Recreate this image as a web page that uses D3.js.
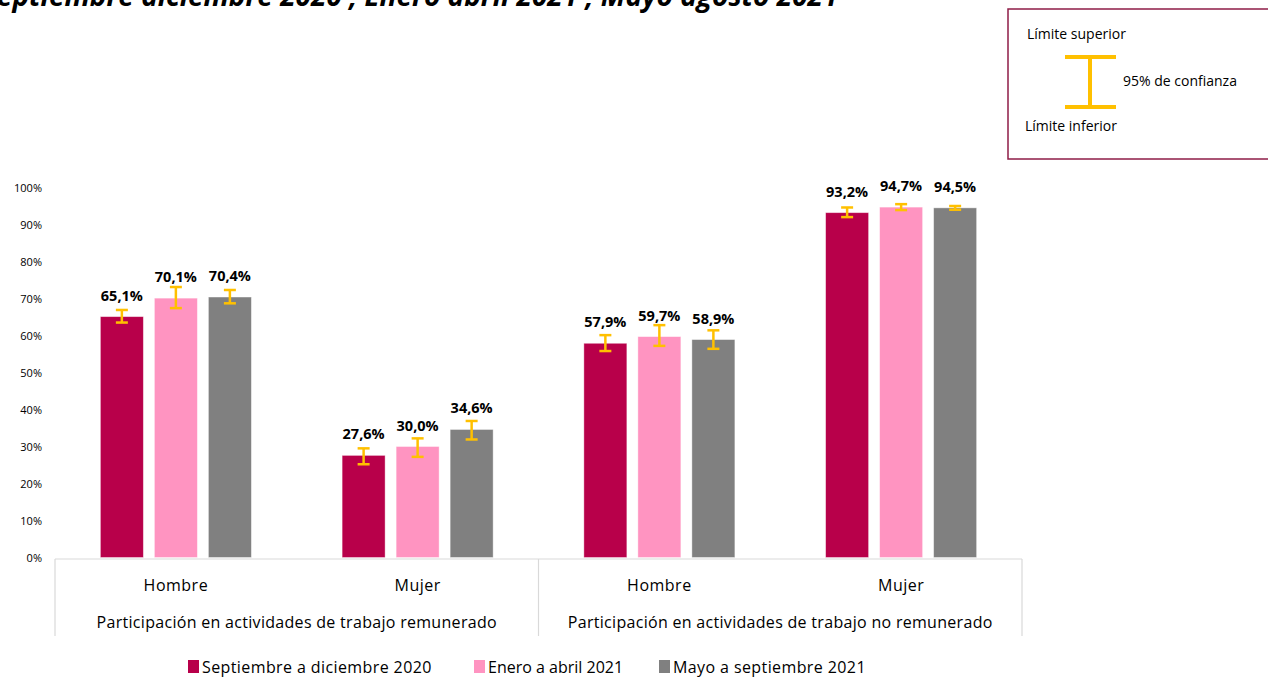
<!DOCTYPE html>
<html>
<head>
<meta charset="utf-8">
<script src="https://cdn.jsdelivr.net/npm/d3@7"></script>
<style>
  body { margin: 0; background: #fff; }
  text { font-family: "Open Sans", "Noto Sans", sans-serif; }
</style>
</head>
<body>
<svg id="chart" width="1268" height="677"></svg>
<script>
// categories and groups
var groups = ["Participación en actividades de trabajo remunerado",
  "Participación en actividades de trabajo no remunerado"];
var categories = ["Hombre", "Mujer", "Hombre", "Mujer"];
var categoryGroup = [0, 0, 1, 1];
var seriesNames = ["Septiembre a diciembre 2020", "Enero a abril 2021", "Mayo a septiembre 2021"];
var seriesColors = ["#B8004A", "#FF94C1", "#808080"];

// values (%)
var sep2020 = [65.1, 27.6, 57.9, 93.2];
var ene2021 = [70.1, 30.0, 59.7, 94.7];
var may2021 = [70.4, 34.6, 58.9, 94.5];

// 95% confidence limits
var sep2020Low = [63.5, 25.2, 55.8, 92.0];
var sep2020High = [66.9, 29.5, 60.1, 94.6];
var ene2021Low = [67.4, 27.2, 57.2, 93.9];
var ene2021High = [73.1, 32.2, 62.8, 95.5];
var may2021Low = [68.7, 31.9, 56.4, 94.0];
var may2021High = [72.3, 36.9, 61.4, 95.0];

var yTicks = [0, 10, 20, 30, 40, 50, 60, 70, 80, 90, 100];

var values = [sep2020, ene2021, may2021];
var lows = [sep2020Low, ene2021Low, may2021Low];
var highs = [sep2020High, ene2021High, may2021High];

var svg = d3.select("#chart");
var left = 55, right = 1022, base = 557.5, top100 = 187.5;

var x0 = d3.scaleBand().domain(d3.range(categories.length)).range([left, right]).padding(0);
var x1 = d3.scaleBand().domain(d3.range(seriesNames.length))
  .range([0, x0.bandwidth()]).paddingInner(0.204).paddingOuter(0.84);
var y = d3.scaleLinear().domain([0, 100]).range([base, top100]);

var fmt = function (v) { return d3.format(".1f")(v).replace(".", ",") + "%"; };

// title (cut at top, as in the source image)
svg.append("text")
  .attr("x", -18).attr("y", 6)
  .style("font-size", "28px").style("font-weight", "bold").style("font-style", "italic")
  .text("Septiembre diciembre 2020 , Enero abril 2021 , Mayo agosto 2021");

// y axis
var yAxis = svg.append("g")
  .attr("transform", "translate(" + (left - 13) + ",0)")
  .call(d3.axisLeft(y).tickValues(yTicks).tickSize(0).tickPadding(0)
    .tickFormat(function (d) { return d + "%"; }));
yAxis.select(".domain").remove();
yAxis.selectAll("text").style("font-size", "11px").style("font-family", "Open Sans").attr("fill", "#000");

// bars
var rows = [];
values.forEach(function (arr, s) {
  arr.forEach(function (v, c) {
    rows.push({ s: s, c: c, v: v, lo: lows[s][c], hi: highs[s][c] });
  });
});

var bars = svg.append("g");
bars.selectAll("rect").data(rows).enter().append("rect")
  .attr("x", function (d) { return x0(d.c) + x1(d.s); })
  .attr("y", function (d) { return y(d.v); })
  .attr("width", x1.bandwidth())
  .attr("height", function (d) { return base - y(d.v); })
  .attr("fill", function (d) { return seriesColors[d.s]; })
  .attr("stroke", "#fff").attr("stroke-opacity", 0.5).attr("stroke-width", 0.8);

// error bars
var err = svg.append("g").attr("stroke", "#FFC000").attr("stroke-width", 2.5);
rows.forEach(function (d) {
  var cx = x0(d.c) + x1(d.s) + x1.bandwidth() / 2;
  err.append("line").attr("x1", cx).attr("x2", cx).attr("y1", y(d.lo)).attr("y2", y(d.hi));
  err.append("line").attr("x1", cx - 6).attr("x2", cx + 6).attr("y1", y(d.lo)).attr("y2", y(d.lo));
  err.append("line").attr("x1", cx - 6).attr("x2", cx + 6).attr("y1", y(d.hi)).attr("y2", y(d.hi));
});

// data labels
svg.append("g").selectAll("text").data(rows).enter().append("text")
  .attr("x", function (d) { return x0(d.c) + x1(d.s) + x1.bandwidth() / 2; })
  .attr("y", function (d) { return y(d.v) - 16; })
  .attr("text-anchor", "middle")
  .style("font-size", "14.5px").style("font-weight", "bold")
  .text(function (d) { return fmt(d.v); });

// category axis
var axisColor = "#D9D9D9";
var axis = svg.append("g").attr("stroke", axisColor).attr("stroke-width", 1.2);
axis.append("line").attr("x1", left).attr("x2", right).attr("y1", base + 1.5).attr("y2", base + 1.5);
var groupEdges = [0, 2, 4];
groupEdges.forEach(function (i) {
  var gx = i < categories.length ? x0(i) : right;
  axis.append("line").attr("x1", gx).attr("x2", gx).attr("y1", base + 1.5).attr("y2", 636);
});

svg.append("g").selectAll("text").data(categories).enter().append("text")
  .attr("x", function (d, i) { return x0(i) + x0.bandwidth() / 2; })
  .attr("y", 591)
  .attr("text-anchor", "middle")
  .style("font-size", "16px").style("letter-spacing", "0.5px")
  .text(function (d) { return d; });

svg.append("g").selectAll("text").data(groups).enter().append("text")
  .attr("x", function (d, g) {
    var idx = categoryGroup.map(function (v, i) { return v === g ? i : -1; }).filter(function (i) { return i >= 0; });
    return (x0(idx[0]) + x0(idx[idx.length - 1]) + x0.bandwidth()) / 2;
  })
  .attr("y", 628)
  .attr("text-anchor", "middle")
  .style("font-size", "16px").style("letter-spacing", "0.3px")
  .text(function (d) { return d; });

// bottom legend
var legendX = [188, 474, 659];
var leg = svg.append("g");
seriesNames.forEach(function (name, i) {
  leg.append("rect").attr("x", legendX[i]).attr("y", 660).attr("width", 11).attr("height", 13)
    .attr("fill", seriesColors[i]);
  leg.append("text").attr("x", legendX[i] + 14).attr("y", 673)
    .style("font-size", "16px").style("letter-spacing", i === 1 ? "0px" : "0.4px").text(name);
});

// confidence interval key
var key = svg.append("g");
key.append("rect").attr("x", 1008).attr("y", 9).attr("width", 280).attr("height", 150)
  .attr("fill", "#fff").attr("stroke", "#8E1D47").attr("stroke-width", 1.5);
key.append("text").attr("x", 1027).attr("y", 39).style("font-size", "14px").text("Límite superior");
key.append("text").attr("x", 1025).attr("y", 131).style("font-size", "14px").text("Límite inferior");
key.append("text").attr("x", 1123).attr("y", 86).style("font-size", "14px").text("95% de confianza");
var ib = key.append("g").attr("stroke", "#FFC000").attr("stroke-width", 4);
ib.append("line").attr("x1", 1090).attr("x2", 1090).attr("y1", 57).attr("y2", 107);
ib.append("line").attr("x1", 1065).attr("x2", 1116).attr("y1", 57).attr("y2", 57);
ib.append("line").attr("x1", 1065).attr("x2", 1116).attr("y1", 107).attr("y2", 107);
</script>
</body>
</html>
